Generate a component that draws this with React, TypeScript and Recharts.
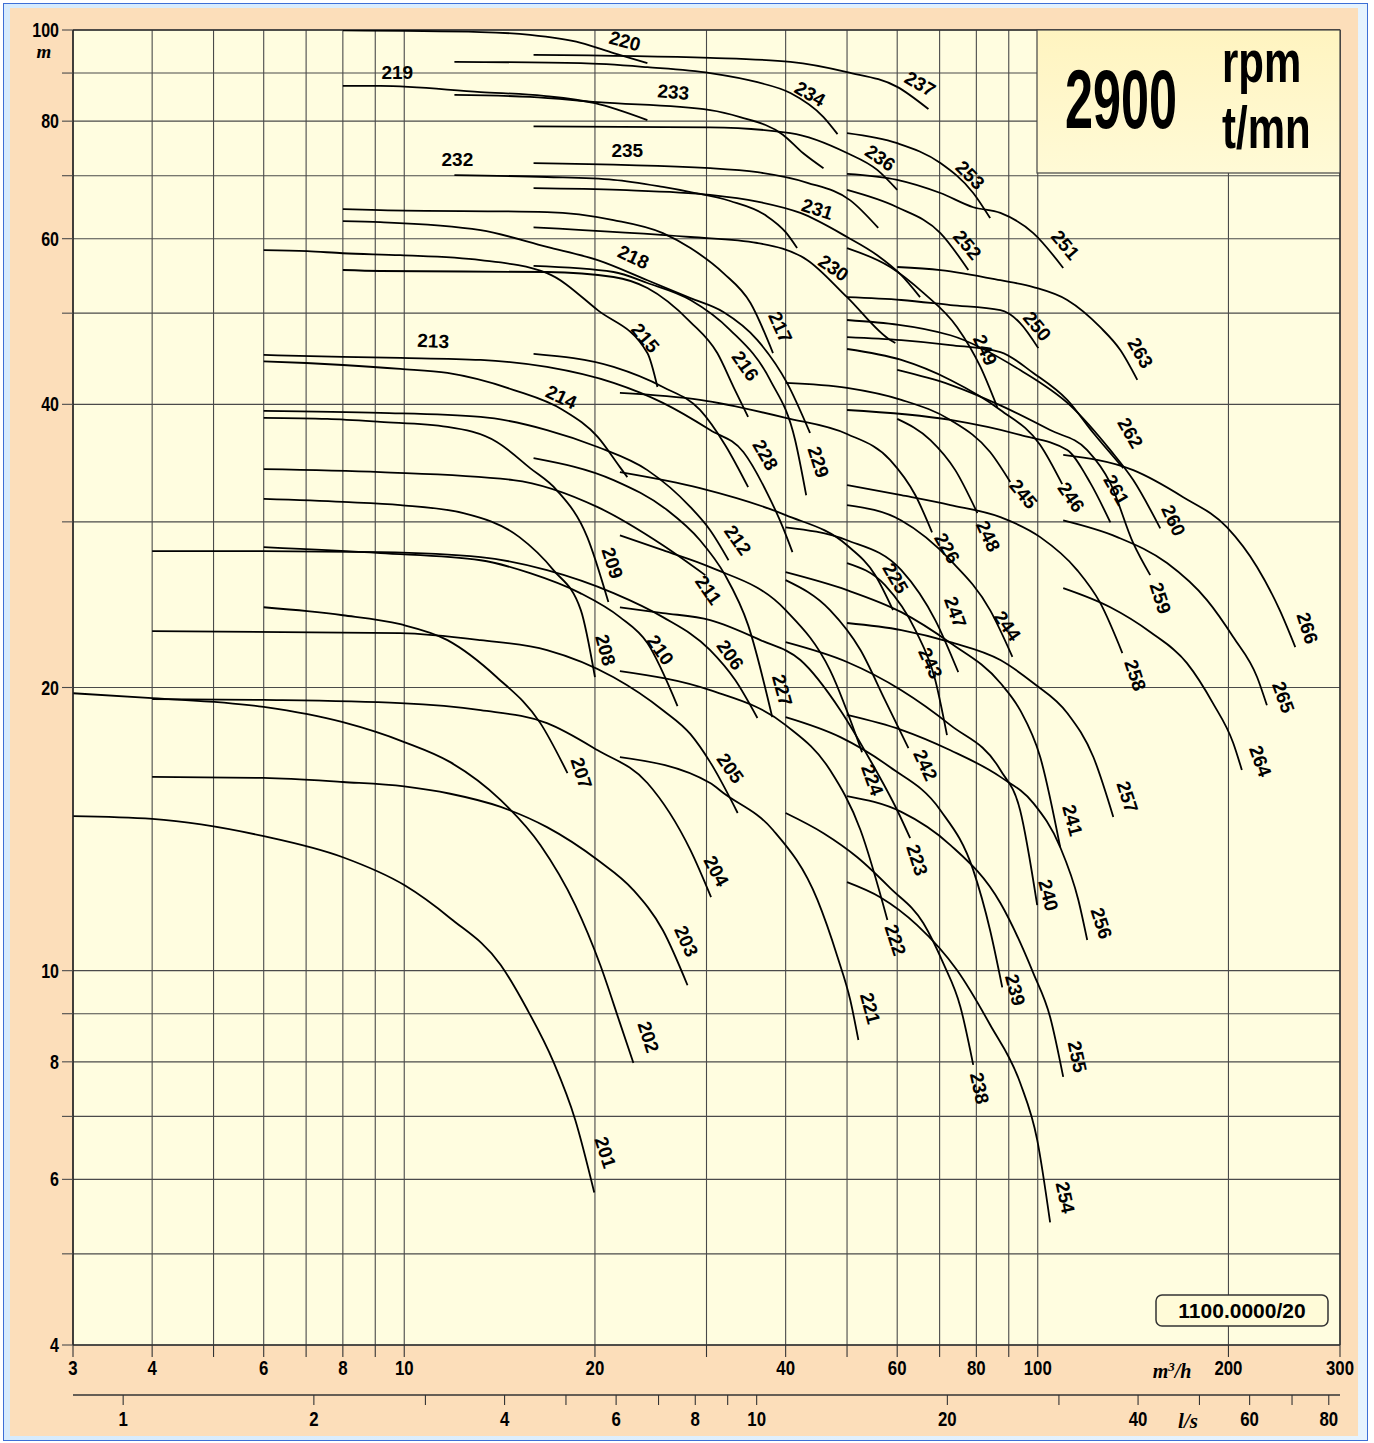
import React from 'react';
import { ComposedChart, Line, XAxis, YAxis, CartesianGrid, Scatter, ReferenceLine } from 'recharts';

type P = [number, number];

const qTicks = [3, 4, 5, 6, 7, 8, 9, 10, 20, 30, 40, 50, 60, 70, 80, 90, 100, 200, 300];
const qLabels = [3, 4, 6, 8, 10, 20, 40, 60, 80, 100, 200, 300];
const hTicks = [4, 5, 6, 7, 8, 9, 10, 20, 30, 40, 50, 60, 70, 80, 90, 100];
const hLabels = [4, 6, 8, 10, 20, 40, 60, 80, 100];
const lsTicks = [1, 2, 3, 4, 5, 6, 7, 8, 9, 10, 20, 30, 40, 50, 60, 70, 80];
const lsLabels = [1, 2, 4, 6, 8, 10, 20, 40, 60, 80];

const c201: P[] = [[3, 14.6], [4, 14.5], [6, 13.9], [8, 13.2], [10, 12.33], [11.82, 11.37], [14.2, 10.14], [15.6, 9.12], [17.2, 8.0], [18.62, 6.94], [19.95, 5.81]];
const c202: P[] = [[3, 19.72], [4, 19.49], [6, 19.07], [8, 18.37], [10, 17.5], [11.82, 16.66], [14.2, 15.18], [16.4, 13.6], [18.62, 11.74], [20.39, 10.14], [21.9, 8.8], [23, 7.98]];
const c203: P[] = [[4, 16.07], [6, 16.03], [8, 15.87], [10, 15.7], [11.82, 15.42], [14.2, 14.93], [16.8, 14.21], [20.2, 13.11], [23, 12.18], [25.6, 11.04], [28, 9.65]];
const c204: P[] = [[4, 19.44], [6, 19.4], [9.86, 19.25], [13.2, 18.92], [16.8, 18.33], [20.2, 17.15], [24.2, 15.83], [28.3, 13.43], [30.5, 11.97]];
const c205: P[] = [[4, 22.96], [9.86, 22.85], [13.2, 22.46], [16.8, 21.92], [21.4, 20.51], [25.6, 18.92], [28.3, 17.84], [30.4, 16.66], [33.6, 14.71]];
const c206: P[] = [[4, 27.93], [6, 27.93], [9.17, 27.86], [13.2, 27.52], [16.8, 26.66], [21.4, 25.2], [25.6, 23.76], [30.4, 21.92], [33.3, 20.37], [36.1, 18.56]];
const c207: P[] = [[6, 24.34], [7.03, 24.11], [8, 23.87], [9.86, 23.35], [11.7, 22.46], [14, 20.51], [16.4, 18.33], [18.1, 16.22]];
const c208: P[] = [[6, 31.73], [8, 31.5], [9.86, 31.26], [12.4, 30.65], [15.2, 28.9], [17.2, 26.66], [19, 24.17], [20, 20.51]];
const c209: P[] = [[6, 38.7], [7.56, 38.6], [9.17, 38.32], [11.7, 37.85], [14, 36.48], [15.8, 34.22], [17.4, 32.43], [19.45, 28.9], [21, 24.65]];
const c210: P[] = [[6, 28.2], [9.17, 27.79], [13.2, 27.31], [15.8, 26.46], [18.96, 25.2], [21.9, 23.76], [24.2, 22.3], [27, 19.11]];
const c211: P[] = [[6, 34.13], [9.17, 33.88], [14.86, 33.23], [20.2, 31.1], [25.6, 28.33], [29.87, 26.33]];
const c212: P[] = [[6, 39.36], [9.17, 39.17], [13.2, 38.79], [16.8, 37.56], [20.2, 36.03], [24.2, 34.05], [28.3, 31.1], [30.4, 29.39], [32.5, 27.31]];
const c213: P[] = [[6, 45.14], [8, 44.92], [9.86, 44.81], [13.2, 44.59], [16.8, 43.83], [21.4, 42.15], [25.6, 40.14], [30.4, 37.56], [34.3, 35.59], [37.4, 32.19], [39.6, 29.6], [41, 27.86]];
const c214: P[] = [[6, 44.44], [7, 44.26], [8, 44.04], [9.86, 43.62], [11.7, 43.19], [14.9, 41.42], [17.8, 39.45], [20.2, 36.93], [21.9, 34.3], [22.5, 33.47]];
const c215: P[] = [[6, 58.35], [7.03, 58.2], [8, 57.9], [9.86, 57.62], [13.2, 56.93], [16.8, 55.15], [20.2, 50.37], [24.2, 45.35], [25.1, 41.73]];
const c216: P[] = [[8, 55.57], [9.17, 55.44], [16.8, 55.3], [21.4, 54.63], [24.2, 53.17], [28.3, 48.93], [31.2, 45.35], [33.1, 41.73], [34.9, 38.79]];
const c217: P[] = [[8, 64.5], [9.17, 64.35], [16.8, 64.04], [21.4, 62.8], [25.6, 60.83], [28.3, 58.64], [31.9, 55.15], [35.2, 51.26], [38.2, 45.35]];
const c218: P[] = [[8, 62.64], [9.17, 62.48], [13.2, 61.27], [16.8, 58.8], [20.2, 56.93], [24.2, 54.2], [28.3, 51.88], [31.9, 50.14], [36.1, 46.81], [40.2, 42.15], [43.7, 37.29]];
const c219: P[] = [[8, 87.2], [9.17, 87.2], [13.2, 85.9], [16.6, 85.1], [20, 83.6], [24.2, 80.2]];
const c220: P[] = [[8, 99.9], [13.2, 99.5], [15.8, 98.8], [19, 96.9], [21.4, 94.5], [24.2, 92.2]];
const c221: P[] = [[21.9, 16.87], [30.4, 15.83], [31.9, 15.45], [38.2, 14.11], [44.9, 11.89], [48.3, 10.34], [50.6, 9.3], [52.1, 8.44]];
const c222: P[] = [[21.9, 20.82], [30.4, 19.87], [40, 18.24], [47, 16.34], [52.5, 14.11], [57.9, 11.32]];
const c223: P[] = [[21.9, 24.34], [25.6, 24.0], [30.4, 23.59], [36.5, 22.46], [42.2, 21.39], [48.8, 18.92], [54.4, 16.74], [60, 14.81], [62.9, 13.83]];
const c224: P[] = [[21.9, 29.03], [25.6, 27.99], [30.4, 26.85], [40, 24.17], [47, 20.87], [52.8, 17.07]];
const c225: P[] = [[21.9, 33.88], [29.3, 32.58], [40, 30.5], [50, 28.33], [55.4, 26.33], [59.1, 24.17]];
const c226: P[] = [[21.9, 41.14], [29.3, 40.44], [40, 38.7], [50, 37.2], [58.5, 34.9], [64.1, 32.02], [68.1, 29.24]];
const c227: P[] = [[16, 35.07], [21.4, 33.23], [26, 30.88], [29.3, 28.68], [32.1, 26.33], [34.9, 23.3], [38.1, 18.6]];
const c228: P[] = [[16, 45.25], [21.4, 43.83], [25.6, 41.73], [29.3, 39.45], [32.1, 36.21], [34.9, 32.66]];
const c229: P[] = [[16, 56.13], [21.4, 55.3], [24.2, 53.83], [28.3, 51.64], [32.7, 47.98], [37.8, 42.46], [41.4, 36.65], [43.1, 32.02]];
const c230: P[] = [[16, 61.7], [28.3, 60.25], [36.1, 59.37], [43.3, 56.93], [50, 52.0], [58.5, 46.81], [59.6, 46.47]];
const c231: P[] = [[16, 67.9], [21.9, 67.6], [30.4, 66.8], [36.1, 65.7], [42.2, 63.9], [50, 60.25], [55.8, 57.62], [60.9, 54.87], [65.2, 52.0]];
const c232: P[] = [[12, 70.1], [16.8, 69.78], [21.4, 69.3], [25.6, 68.1], [28.3, 67.26], [32.7, 65.8], [37.15, 63.57], [40, 60.96], [41.7, 58.64]];
const c233: P[] = [[12, 85.3], [15.8, 84.9], [20.2, 83.8], [30.4, 82.2], [33.9, 80.8], [39.6, 77.4], [42.6, 74.0], [45.9, 71.3]];
const c234: P[] = [[12, 92.5], [19, 92.2], [24.2, 91.3], [30.4, 90.0], [36.1, 88.0], [40.7, 85.7], [45.9, 80.8], [48.3, 77.5]];
const c235: P[] = [[16, 72.2], [30.4, 71.3], [36.1, 70.6], [43.3, 68.8], [50.6, 65.9], [56, 61.6]];
const c236: P[] = [[16, 79.0], [30.4, 78.8], [40.7, 77.7], [50, 74.0], [55.8, 71.0], [60, 67.6]];
const c237: P[] = [[16, 94.1], [30.4, 93.4], [40.7, 92.5], [50, 90.2], [60, 87.0], [67.2, 82.4]];
const c238: P[] = [[40, 14.71], [45.9, 14.0], [51.9, 13.2], [58.5, 12.24], [66, 11.23], [70.9, 10.19], [75.5, 9.15], [79.1, 7.94]];
const c239: P[] = [[40, 18.6], [48.8, 17.71], [58.5, 16.45], [70.2, 14.81], [79.1, 12.79], [84.1, 11.04], [87.9, 9.6]];
const c240: P[] = [[40, 22.35], [50, 21.29], [60.9, 19.87], [72.8, 18.24], [87.3, 16.34], [93.8, 14.81], [99.8, 11.74]];
const c241: P[] = [[40, 26.52], [50, 25.38], [60.9, 24.05], [72.8, 22.3], [87.3, 20.22], [93.8, 18.92], [100.9, 16.87], [108.5, 13.53]];
const c242: P[] = [[40, 26.01], [47, 24.17], [52.5, 21.92], [57.4, 19.39], [62.5, 17.24]];
const c243: P[] = [[50, 27.12], [57.4, 25.7], [64.1, 23.02], [68.9, 20.37], [71.9, 17.8]];
const c244: P[] = [[50, 31.26], [60.9, 30.1], [72.8, 27.31], [84.1, 24.17], [91.2, 21.56]];
const c245: P[] = [[40, 42.15], [50, 41.64], [60.9, 40.44], [72.8, 38.5], [84.1, 35.59], [90.5, 33.07]];
const c246: P[] = [[50, 45.8], [60.9, 44.59], [72.8, 42.46], [87.3, 39.45], [100.9, 36.21], [109.3, 32.9]];
const c247: P[] = [[40, 29.6], [50, 28.68], [60.9, 26.66], [68.9, 23.59], [74.9, 20.77]];
const c248: P[] = [[60, 38.6], [67.7, 36.65], [74.1, 34.05], [80.3, 30.65]];
const c249: P[] = [[50, 58.64], [58.5, 55.98], [66, 52.54], [74.6, 48.31], [81.2, 43.83], [86.3, 39.73]];
const c250: P[] = [[50, 52], [60.9, 51.64], [72.8, 51.0], [87.3, 50.37], [93.8, 48.81], [100.2, 45.9]];
const c251: P[] = [[50, 70.33], [60, 69.3], [70.2, 67.1], [79.1, 64.8], [87.3, 63.9], [98.4, 60.83], [109.7, 55.85]];
const c252: P[] = [[50, 67.6], [60, 64.8], [70.2, 60.83], [77.7, 55.57]];
const c253: P[] = [[50, 77.7], [60, 75.8], [70.2, 72.2], [79.1, 67.1], [84.1, 63.1]];
const c254: P[] = [[50, 12.42], [56.4, 11.97], [64.5, 11.18], [74.6, 10.01], [84.1, 8.76], [93.8, 7.6], [99.8, 6.61], [104.6, 5.4]];
const c255: P[] = [[50, 15.33], [60.9, 14.75], [72.8, 13.6], [87.3, 11.8], [98.4, 9.94], [104.6, 8.93], [109.7, 7.71]];
const c256: P[] = [[50, 18.7], [60.9, 18.03], [72.8, 17.15], [87.3, 16.07], [98.4, 15.07], [108.5, 13.53], [115.9, 11.89], [119.7, 10.78]];
const c257: P[] = [[50, 23.42], [60.9, 23.02], [72.8, 22.35], [87.3, 21.39], [98.4, 20.22], [111.3, 18.79], [122.4, 16.87], [131.6, 14.57]];
const c258: P[] = [[50, 32.83], [60.9, 32.02], [72.8, 31.26], [87.3, 30.35], [100.9, 28.9], [115.4, 26.66], [125.5, 24.6], [136, 21.76]];
const c259: P[] = [[60, 43.51], [72.8, 41.96], [87.3, 39.9], [104.6, 37.56], [119.7, 35.76], [130.2, 32.98], [141.5, 28.47], [150.5, 26.33]];
const c260: P[] = [[50, 49.17], [72.8, 47.37], [93.8, 43.5], [112.5, 39.9], [130.2, 35.76], [141.5, 33.23], [156.1, 29.53]];
const c261: P[] = [[50, 39.45], [72.8, 38.5], [93.8, 37.11], [111.3, 35.76], [121.1, 32.98], [130.2, 29.96]];
const c262: P[] = [[50, 47.16], [60.9, 46.81], [72.8, 46.25], [87.3, 45.46], [98.4, 43.19], [111.3, 40.44], [122.4, 37.29], [136.5, 34.22]];
const c263: P[] = [[60, 55.98], [70.2, 55.57], [87.3, 54.2], [98.4, 53.3], [111.3, 51.64], [125.5, 48.31], [135, 45.68], [143.6, 42.46]];
const c264: P[] = [[109.7, 25.51], [130.2, 24.34], [150.5, 22.91], [172, 21.23], [189, 19.25], [203.5, 17.46], [210, 16.34]];
const c265: P[] = [[109.7, 30.1], [133.5, 28.9], [160, 27.12], [185, 24.77], [203.5, 22.63], [222, 20.51], [230, 19.15]];
const c266: P[] = [[109.7, 35.34], [141.5, 34.05], [169.7, 31.87], [199, 29.6], [222, 26.85], [241, 24.17], [255, 22.08]];

const curves: P[][] = [
  c201, c202, c203, c204, c205, c206, c207, c208, c209, c210, c211, c212, c213, c214, c215, c216, c217, c218, c219, c220,
  c221, c222, c223, c224, c225, c226, c227, c228, c229, c230, c231, c232, c233, c234, c235, c236, c237, c238, c239, c240,
  c241, c242, c243, c244, c245, c246, c247, c248, c249, c250, c251, c252, c253, c254, c255, c256, c257, c258, c259, c260,
  c261, c262, c263, c264, c265, c266,
];

// curve labels 201..266: flow (m3/h), head (m), text angle (deg)
const labelQ = [
  20.77, 24.28, 27.87, 31.08, 32.7, 32.7, 19.03, 20.77, 21.3, 25.36, 30.2, 33.6, 11.11, 17.7, 24.01, 34.53, 39.22, 23.0, 9.75, 22.3,
  54.4, 59.6, 64.5, 54.8, 59.6, 71.9, 39.5, 37.15, 45.05, 47.6, 44.9, 12.13, 26.6, 43.7, 22.5, 56.4, 65.2, 80.9, 92.1, 103.9,
  113.4, 66.45, 67.7, 89.5, 94.9, 112.9, 74.1, 83.5, 82.6, 99.8, 110.5, 77.4, 78.2, 110.5, 115.4, 126, 138.5, 142.5, 156.1, 163.7,
  133.0, 140, 145.2, 224.5, 244.1, 266.3,
];
const labelH = [
  6.41, 8.5, 10.75, 12.76, 16.41, 21.66, 16.22, 21.92, 27.12, 21.92, 25.38, 28.68, 46.7, 40.72, 47.05, 43.94, 48.31, 57.35, 90.2, 97.3,
  9.12, 10.78, 13.11, 15.95, 26.14, 28.13, 19.87, 35.34, 34.73, 55.85, 64.5, 72.9, 85.9, 85.5, 74.5, 73.1, 87.6, 7.5, 9.54, 12.03,
  14.45, 16.54, 21.23, 23.25, 32.11, 31.87, 24.05, 28.97, 45.68, 48.43, 59.08, 59.08, 70.1, 5.74, 8.1, 11.23, 15.3, 20.61, 24.89, 30.1,
  32.43, 37.29, 45.35, 16.7, 19.53, 23.13,
];
const labelA = [
  72, 72, 65, 62, 55, 55, 72, 75, 72, 55, 55, 55, 3, 25, 50, 55, 65, 25, 0, 15,
  75, 72, 72, 70, 60, 60, 75, 60, 72, 35, 18, 0, 5, 30, 0, 35, 30, 78, 75, 75,
  75, 65, 65, 55, 50, 55, 70, 65, 65, 50, 50, 50, 45, 78, 78, 72, 72, 72, 72, 65,
  60, 60, 60, 70, 70, 72,
];

const labelData = labelQ.map((q, i) => ({ q, h: labelH[i], t: String(201 + i), a: labelA[i] }));

const FONT = "'Liberation Sans', Arial, Helvetica, sans-serif";
const SERIF = "'Liberation Serif', 'DejaVu Serif', serif";

function QTick(props: any) {
  const { x, y, payload } = props;
  if (!qLabels.includes(payload.value)) return null;
  return (
    <g transform={`translate(${x},${y})`}>
      <text x={0} y={0} dy={15} textAnchor="middle" transform="scale(0.8,1)" fontFamily={FONT} fontWeight={700} fontSize={21} fill="#000">
        {payload.value}
      </text>
    </g>
  );
}

function LsTick(props: any) {
  const { x, y, payload } = props;
  if (!lsLabels.includes(payload.value)) return null;
  return (
    <g transform={`translate(${x},${y})`}>
      <text x={0} y={0} dy={15} textAnchor="middle" transform="scale(0.8,1)" fontFamily={FONT} fontWeight={700} fontSize={21} fill="#000">
        {payload.value}
      </text>
    </g>
  );
}

function HTick(props: any) {
  const { x, y, payload } = props;
  if (!hLabels.includes(payload.value)) return null;
  return (
    <g transform={`translate(${x},${y})`}>
      <text x={0} y={0} dy={7} textAnchor="end" transform="scale(0.8,1)" fontFamily={FONT} fontWeight={700} fontSize={20} fill="#000">
        {payload.value}
      </text>
    </g>
  );
}

function CurveLabel(props: any) {
  const { cx, cy, payload } = props;
  if (cx == null || cy == null) return null;
  return (
    <text
      x={cx}
      y={cy}
      textAnchor="middle"
      dominantBaseline="central"
      transform={`rotate(${payload.a} ${cx} ${cy})`}
      fontFamily={FONT}
      fontWeight={700}
      fontSize={19}
      fill="#000"
    >
      {payload.t}
    </text>
  );
}

export default function App() {
  return (
    <div style={{ position: 'absolute', left: 0, top: 0, width: 1374, height: 1443, background: '#ffffff', overflow: 'hidden' }}>
      <div style={{ position: 'absolute', left: 3, top: 3, width: 1363, height: 1436, border: '1px solid #3d6fd6', background: 'linear-gradient(90deg,#d6ebfd,#e6f3fe)' }} />
      <div style={{ position: 'absolute', left: 10, top: 8, width: 1348, height: 1428, background: '#FCDEBA' }} />
      <div style={{ position: 'absolute', left: 0, top: 0 }}>
        <ComposedChart width={1374} height={1443} margin={{ top: 30, right: 34, bottom: 0, left: 0 }}>
          <CartesianGrid xAxisId="a" yAxisId="h" stroke="#4a4a4a" strokeWidth={1.1} fill="#FFFDE0" fillOpacity={1} />
          <XAxis
            xAxisId="a"
            type="number"
            dataKey="q"
            scale="log"
            domain={[3, 300]}
            allowDataOverflow
            ticks={qTicks}
            interval={0}
            height={50}
            tickSize={12}
            tickMargin={3}
            axisLine={{ stroke: '#333', strokeWidth: 1.5 }}
            tickLine={{ stroke: '#333', strokeWidth: 1.1 }}
            tick={<QTick />}
          />
          <XAxis
            xAxisId="b"
            type="number"
            dataKey="q"
            scale="log"
            domain={[3 / 3.6, 300 / 3.6]}
            allowDataOverflow
            ticks={lsTicks}
            interval={0}
            height={48}
            tickSize={10}
            tickMargin={6}
            axisLine={{ stroke: '#333', strokeWidth: 1.5 }}
            tickLine={{ stroke: '#333', strokeWidth: 1.1 }}
            tick={<LsTick />}
          />
          <YAxis
            yAxisId="h"
            type="number"
            dataKey="h"
            scale="log"
            domain={[4, 100]}
            allowDataOverflow
            ticks={hTicks}
            interval={0}
            width={73}
            tickSize={11}
            tickMargin={3}
            axisLine={{ stroke: '#222', strokeWidth: 1.5 }}
            tickLine={{ stroke: '#4a4a4a', strokeWidth: 1.1 }}
            tick={<HTick />}
          />
          <ReferenceLine xAxisId="a" yAxisId="h" x={300} stroke="#333" strokeWidth={1.5} />
          <ReferenceLine xAxisId="a" yAxisId="h" y={100} stroke="#333" strokeWidth={1.5} />
          <Line xAxisId="b" yAxisId="h" data={[{ q: 1, h: 500 }]} dataKey="h" stroke="none" dot={false} activeDot={false} isAnimationActive={false} legendType="none" />
          {curves.map((pts, i) => (
            <Line
              key={i}
              xAxisId="a"
              yAxisId="h"
              data={pts.map(([q, h]) => ({ q, h }))}
              dataKey="h"
              type="monotone"
              stroke="#000"
              strokeWidth={1.8}
              dot={false}
              activeDot={false}
              isAnimationActive={false}
            />
          ))}
          <Scatter xAxisId="a" yAxisId="h" data={labelData} dataKey="h" shape={<CurveLabel />} isAnimationActive={false} />
        </ComposedChart>
      </div>
      <svg width={1374} height={1443} style={{ position: 'absolute', left: 0, top: 0, pointerEvents: 'none' }}>
        <text x={44} y={58} textAnchor="middle" fontFamily={SERIF} fontStyle="italic" fontWeight={700} fontSize={19} fill="#000">m</text>
        <text x={1172} y={1378} textAnchor="middle" fontFamily={SERIF} fontStyle="italic" fontWeight={700} fontSize={20} fill="#000">
          m<tspan dy={-7} fontSize={13}>3</tspan><tspan dy={7}>/h</tspan>
        </text>
        <text x={1188} y={1428} textAnchor="middle" fontFamily={SERIF} fontStyle="italic" fontWeight={700} fontSize={21} fill="#000">l/s</text>
        <defs>
          <linearGradient id="boxg" x1="0" y1="0" x2="0" y2="1">
            <stop offset="0" stopColor="#FFF4C0" />
            <stop offset="1" stopColor="#FFFAD6" />
          </linearGradient>
        </defs>
        <rect x={1037} y={30} width={303} height={143} fill="url(#boxg)" stroke="#444" strokeWidth={1.2} />
        <g transform="translate(1065,128) scale(0.6,1)">
          <text x={0} y={0} fontFamily={FONT} fontWeight={700} fontSize={84} fill="#000">2900</text>
        </g>
        <g transform="translate(1222,82) scale(0.7,1)">
          <text x={0} y={0} fontFamily={FONT} fontWeight={700} fontSize={60} fill="#000">rpm</text>
        </g>
        <g transform="translate(1222,148) scale(0.7,1)">
          <text x={0} y={0} fontFamily={FONT} fontWeight={700} fontSize={60} fill="#000">t/mn</text>
        </g>
        <rect x={1156} y={1295} width={172} height={31} rx={6} ry={6} fill="#FFFBD8" stroke="#333" strokeWidth={1.5} />
        <text x={1242} y={1318} textAnchor="middle" fontFamily={FONT} fontWeight={700} fontSize={21} fill="#000">1100.0000/20</text>
      </svg>
    </div>
  );
}
